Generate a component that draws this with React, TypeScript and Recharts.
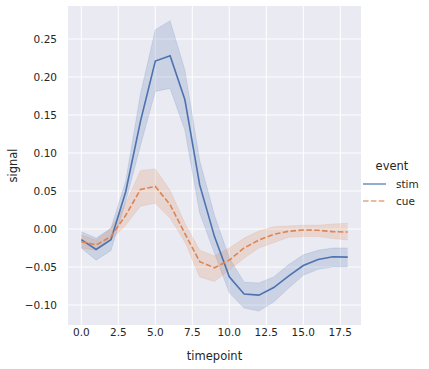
import React from "react";
import {
  ComposedChart,
  Line,
  Area,
  XAxis,
  YAxis,
  CartesianGrid,
  Label,
} from "recharts";

const timepoints = [0, 1, 2, 3, 4, 5, 6, 7, 8, 9, 10, 11, 12, 13, 14, 15, 16, 17, 18];
const stimMean = [-0.014, -0.027, -0.014, 0.049, 0.142, 0.221, 0.228, 0.17, 0.058, -0.01, -0.063, -0.0855, -0.087, -0.077, -0.062, -0.048, -0.04, -0.0365, -0.037];
const stimLow = [-0.025, -0.041, -0.0285, 0.036, 0.11, 0.181, 0.185, 0.13, 0.021, -0.032, -0.084, -0.104, -0.108, -0.096, -0.078, -0.061, -0.053, -0.05, -0.05];
const stimHigh = [-0.0035, -0.012, 0.001, 0.063, 0.178, 0.262, 0.274, 0.209, 0.09, 0.018, -0.038, -0.07, -0.071, -0.063, -0.047, -0.034, -0.028, -0.025, -0.025];
const cueMean = [-0.0167, -0.021, -0.01, 0.018, 0.052, 0.056, 0.032, -0.006, -0.043, -0.051, -0.041, -0.025, -0.0145, -0.007, -0.003, -0.0013, -0.0017, -0.0035, -0.004];
const cueLow = [-0.025, -0.028, -0.0145, 0.005, 0.03, 0.034, 0.014, -0.017, -0.063, -0.069, -0.054, -0.0386, -0.025, -0.018, -0.011, -0.01, -0.01, -0.0125, -0.0145];
const cueHigh = [-0.008, -0.0145, 0.001, 0.034, 0.077, 0.079, 0.051, 0.0075, -0.028, -0.0355, -0.025, -0.012, -0.0026, 0.003, 0.004, 0.005, 0.005, 0.0066, 0.0075];

const xTicks = [0, 2.5, 5, 7.5, 10, 12.5, 15, 17.5];
const yTicks = [-0.1, -0.05, 0, 0.05, 0.1, 0.15, 0.2, 0.25];
const seriesNames = ["stim", "cue"];
const legendTitle = "event";

const STIM = "#4C72B0";
const CUE = "#DD8452";
const TEXT = "#262626";
const FONT = "DejaVu Sans";

const data = timepoints.map((t, i) => ({
  t,
  stim: stimMean[i],
  stimBand: [stimLow[i], stimHigh[i]],
  cue: cueMean[i],
  cueBand: [cueLow[i], cueHigh[i]],
}));

const fmtY = (v: number) => {
  const s = Math.abs(v).toFixed(2);
  return v < -1e-9 ? "\u2212" + s : s;
};
const fmtX = (v: number) => v.toFixed(1);

const LegendBox = () => (
  <div style={{ position: "absolute", left: 361, top: 158, width: 68, height: 60, fontFamily: FONT, color: TEXT }}>
    <div style={{ fontSize: 11.5, position: "absolute", left: 31, top: 1, transform: "translateX(-50%)", whiteSpace: "nowrap", lineHeight: "14px" }}>
      {legendTitle}
    </div>
    {seriesNames.map((n, i) => (
      <div key={n} style={{ position: "absolute", left: 2, top: 19 + i * 16.5, height: 14, display: "flex", alignItems: "center", whiteSpace: "nowrap" }}>
        <svg width={24} height={6}>
          <line x1={0} x2={23} y1={3} y2={3} stroke={i === 0 ? STIM : CUE} strokeWidth={1.6} strokeDasharray={i === 0 ? undefined : "5.5 2.4"} strokeOpacity={0.75} />
        </svg>
        <span style={{ fontSize: 10.5, marginLeft: 9, lineHeight: "14px" }}>{n}</span>
      </div>
    ))}
  </div>
);

export default function App() {
  return (
    <div style={{ position: "absolute", left: 0, top: 0, width: 429, height: 369, background: "#fff" }}>
      <ComposedChart
        width={429}
        height={369}
        data={data}
        margin={{ top: 6, right: 68, bottom: 0, left: 0 }}
      >
        <CartesianGrid fill="#EAEAF2" stroke="#FFFFFF" strokeWidth={1} horizontalValues={yTicks} verticalValues={xTicks} />
        <XAxis
          dataKey="t"
          type="number"
          domain={[-0.9, 18.9]}
          ticks={xTicks}
          tickFormatter={fmtX}
          axisLine={false}
          tickLine={false}
          tickSize={0}
          tickMargin={4}
          height={44}
          allowDataOverflow
          tick={{ fill: TEXT, fontSize: 10.5, fontFamily: FONT }}
        >
          <Label value="timepoint" position="insideBottom" offset={9} style={{ fill: TEXT, fontSize: 11.5, fontFamily: FONT }} />
        </XAxis>
        <YAxis
          type="number"
          domain={[-0.1263, 0.2934]}
          ticks={yTicks}
          tickFormatter={fmtY}
          axisLine={false}
          tickLine={false}
          tickSize={0}
          tickMargin={11}
          width={68}
          allowDataOverflow
          tick={{ fill: TEXT, fontSize: 10.5, fontFamily: FONT }}
        >
          <Label value="signal" angle={-90} position="insideLeft" offset={13} style={{ fill: TEXT, fontSize: 11.5, fontFamily: FONT, textAnchor: "middle" }} />
        </YAxis>
        <Area dataKey="stimBand" type="linear" fill={STIM} fillOpacity={0.2} stroke={STIM} strokeOpacity={0.15} strokeWidth={1} isAnimationActive={false} legendType="none" activeDot={false} />
        <Area dataKey="cueBand" type="linear" fill={CUE} fillOpacity={0.2} stroke={CUE} strokeOpacity={0.15} strokeWidth={1} isAnimationActive={false} legendType="none" activeDot={false} />
        <Line dataKey="stim" type="linear" stroke={STIM} strokeWidth={1.6} dot={false} isAnimationActive={false} />
        <Line dataKey="cue" type="linear" stroke={CUE} strokeWidth={1.6} strokeDasharray="5.5 2.4" dot={false} isAnimationActive={false} />
      </ComposedChart>
      <LegendBox />
    </div>
  );
}
